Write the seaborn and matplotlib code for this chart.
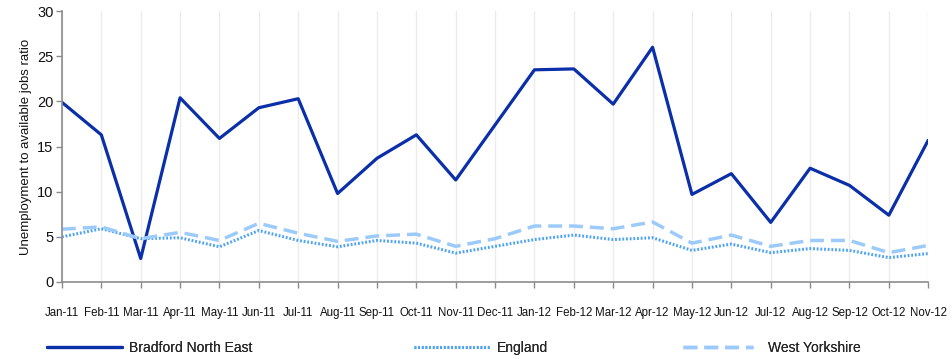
import matplotlib
matplotlib.use("Agg")
import matplotlib.pyplot as plt
import seaborn as sns
import pandas as pd

months = ["Jan-11", "Feb-11", "Mar-11", "Apr-11", "May-11", "Jun-11", "Jul-11",
          "Aug-11", "Sep-11", "Oct-11", "Nov-11", "Dec-11", "Jan-12", "Feb-12",
          "Mar-12", "Apr-12", "May-12", "Jun-12", "Jul-12", "Aug-12", "Sep-12",
          "Oct-12", "Nov-12"]

bradford_ne = [19.9, 16.3, 2.6, 20.4, 15.9, 19.3, 20.3, 9.8, 13.7, 16.3, 11.3, 17.4,
               23.5, 23.6, 19.7, 26.0, 9.7, 12.0, 6.6, 12.6, 10.7, 7.4, 15.7]
england = [5.0, 5.9, 4.8, 4.9, 3.9, 5.7, 4.6, 3.9, 4.6, 4.3, 3.2, 3.95,
           4.7, 5.2, 4.7, 4.9, 3.5, 4.2, 3.25, 3.7, 3.5, 2.7, 3.15]
west_yorkshire = [5.85, 6.1, 4.8, 5.5, 4.6, 6.5, 5.4, 4.5, 5.1, 5.3, 3.95, 4.8,
                  6.2, 6.2, 5.9, 6.65, 4.3, 5.2, 3.95, 4.6, 4.6, 3.25, 4.05]

sns.set_theme(style="white")
plt.rcParams["font.family"] = ["Liberation Sans", "DejaVu Sans"]

fig = plt.figure(figsize=(9.53, 3.59), dpi=100)
ax = fig.add_axes([0.065, 0.2145, 0.909, 0.7545])

pos = list(range(len(months)))
df = pd.DataFrame({"pos": pos, "bne": bradford_ne, "eng": england, "wy": west_yorkshire})

sns.lineplot(data=df, x="pos", y="bne", ax=ax, color="#0a2fa8", linewidth=2.3,
             label="Bradford North East")
sns.lineplot(data=df, x="pos", y="eng", ax=ax, color="#4ea3f5", linewidth=2.2,
             linestyle=(0, (0.6, 0.6)), label="England")
sns.lineplot(data=df, x="pos", y="wy", ax=ax, color="#9ccbfb", linewidth=2.5,
             linestyle=(0, (4, 2)), label="West Yorkshire")

ax.set_xlim(0, len(months) - 1)
ax.set_ylim(0, 30)
ax.set_yticks([0, 5, 10, 15, 20, 25, 30])
ax.set_xticks(pos)
ax.set_xticklabels(months)
ax.set_xlabel("")
ax.set_ylabel("Unemployment to available jobs ratio", fontsize=9.5, color="#111111")

ax.grid(axis="x", color="#ececec", linewidth=1)
ax.grid(axis="y", visible=False)
ax.set_axisbelow(True)
for side in ("top", "right"):
    ax.spines[side].set_visible(False)
for side in ("left", "bottom"):
    ax.spines[side].set_color("#8c8c8c")
    ax.spines[side].set_linewidth(1.2)

ax.tick_params(axis="y", length=4, width=1, color="#8c8c8c", labelsize=10.5,
               labelcolor="#111111", pad=2, left=True)
ax.tick_params(axis="x", length=4, width=1, color="#8c8c8c", labelsize=8.3,
               labelcolor="#111111", pad=14, bottom=True)

ax.legend_.remove()
handles, labels = ax.get_legend_handles_labels()
legend_x = [0.049, 0.434, 0.717]
legend_handle_len = [5.4, 5.6, 5.0]
legend_text_pad = [0.55, 0.4, 1.1]
for h, lab, x0, hl, tp in zip(handles, labels, legend_x, legend_handle_len, legend_text_pad):
    leg = fig.legend([h], [lab], loc="center left", bbox_to_anchor=(x0, 0.031),
                     frameon=False, handlelength=hl, handletextpad=tp,
                     fontsize=10, borderaxespad=0, borderpad=0)
    fig.add_artist(leg)

fig.savefig("out.png", dpi=100, facecolor="white")
